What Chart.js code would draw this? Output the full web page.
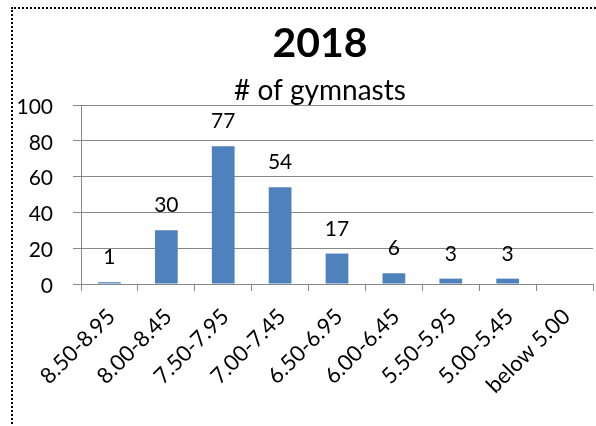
<!DOCTYPE html>
<html>
<head>
<meta charset="utf-8">
<script src="https://cdn.jsdelivr.net/npm/chart.js@4"></script>
<style>
    html, body { margin: 0; padding: 0; background: #fff; overflow: hidden; }
    body { width: 596px; height: 426px; position: relative; }
    .frame {
        position: absolute; left: 11px; top: 7px;
        width: 700px; height: 600px;
        border: 2px dotted #000;
        box-sizing: border-box;
    }
    #wrap { position: absolute; left: 0; top: 0; width: 596px; height: 426px; }
</style>
</head>
<body>
<div class="frame"></div>
<div id="wrap"><canvas id="chart" width="596" height="426"></canvas></div>
<script>
// ===== DATA =====
const titleText = '2018';
const seriesName = '# of gymnasts';
const categories = ['8.50-8.95', '8.00-8.45', '7.50-7.95', '7.00-7.45', '6.50-6.95', '6.00-6.45', '5.50-5.95', '5.00-5.45', 'below 5.00'];
const counts = [1, 30, 77, 54, 17, 6, 3, 3, 0];
const yTicks = [0, 20, 40, 60, 80, 100];

const FONT = 'Lato, "Open Sans", sans-serif';
const GRID = '#878787';
const BAR = '#4F81BD';

// Titles, value labels and axis labels drawn by hand (Excel-like placement)
const excelBits = {
    id: 'excelBits',
    afterDatasetsDraw(chart) {
        const ctx = chart.ctx;
        ctx.save();
        ctx.fillStyle = '#000';
        ctx.textAlign = 'center';
        ctx.textBaseline = 'alphabetic';

        ctx.font = 'bold 41px ' + FONT;
        ctx.fillText(titleText, 320, 57);
        ctx.font = '28px ' + FONT;
        ctx.fillText(seriesName, 320, 100);

        // value labels above bars (zeros are skipped)
        ctx.font = '21px ' + FONT;
        const meta = chart.getDatasetMeta(0);
        meta.data.forEach((bar, i) => {
            if (!counts[i]) return;
            ctx.fillText(String(counts[i]), bar.x, bar.y - 18);
        });

        // y tick labels
        const ys = chart.scales.y;
        ctx.textAlign = 'right';
        ctx.textBaseline = 'middle';
        yTicks.forEach(v => {
            ctx.fillText(String(v), ys.right - 28, ys.getPixelForValue(v) + 2);
        });

        // category labels at 45 degrees, text end under the category centre
        const xs = chart.scales.x;
        ctx.font = '22px ' + FONT;
        categories.forEach((c, i) => {
            ctx.save();
            ctx.translate(xs.getPixelForValue(i) + 2, xs.top + 29);
            ctx.rotate(-Math.PI / 4);
            ctx.fillText(c, 0, 0);
            ctx.restore();
        });
        ctx.restore();
    }
};

new Chart(document.getElementById('chart'), {
    type: 'bar',
    data: {
        labels: categories,
        datasets: [{
            label: seriesName,
            data: counts,
            backgroundColor: BAR,
            borderWidth: 0,
            barPercentage: 0.4,
            categoryPercentage: 1
        }]
    },
    options: {
        responsive: false,
        animation: false,
        layout: { padding: { top: 105, left: 0, right: 3, bottom: 0 } },
        plugins: {
            legend: { display: false },
            tooltip: { enabled: false },
            title: { display: false }
        },
        scales: {
            y: {
                min: 0,
                max: 100,
                afterBuildTicks: (scale) => { scale.ticks = yTicks.map(v => ({ value: v })); },
                afterFit: (scale) => { scale.width = 81; },
                border: { display: true, color: GRID, width: 1 },
                grid: { color: GRID, lineWidth: 1, tickLength: 8 },
                ticks: { display: false }
            },
            x: {
                afterFit: (scale) => { scale.height = 142; },
                border: { display: true, color: GRID, width: 1 },
                grid: { display: true, drawOnChartArea: false, color: GRID, tickLength: 7, offset: true },
                ticks: { display: false }
            }
        }
    },
    plugins: [excelBits]
});
</script>
</body>
</html>
